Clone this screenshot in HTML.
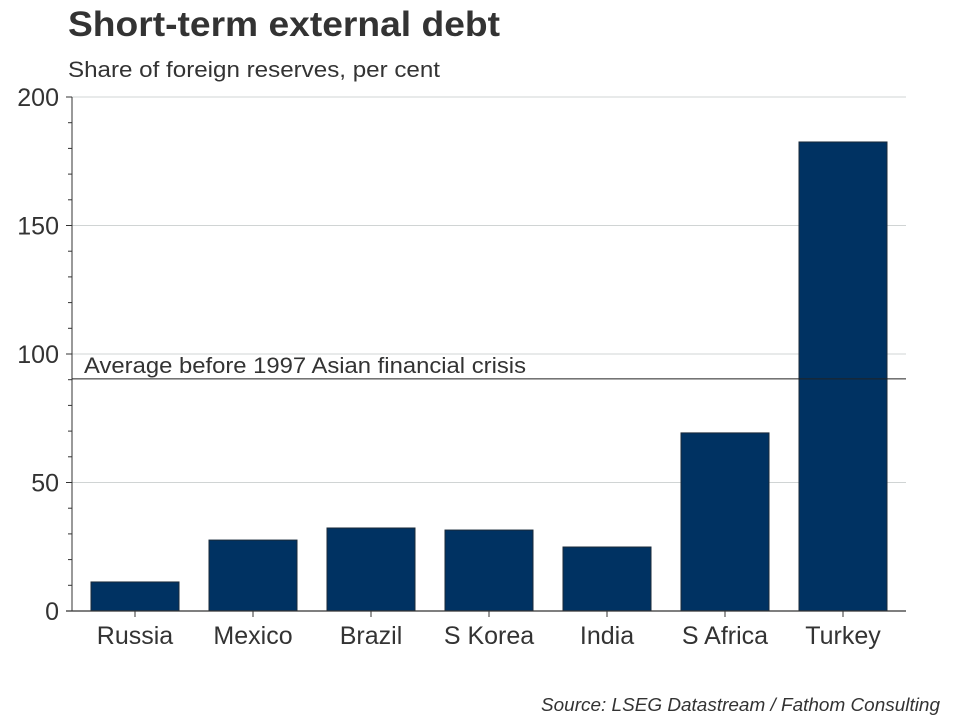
<!DOCTYPE html>
<html><head><meta charset="utf-8"><style>
body{margin:0;background:#fff;}
svg text{font-family:"Liberation Sans",Arial,sans-serif;}
</style></head><body>
<svg id="chart" width="960" height="720" xmlns="http://www.w3.org/2000/svg">
<text x="68" y="36" font-size="35" font-weight="bold" fill="#333" textLength="432" lengthAdjust="spacingAndGlyphs">Short-term external debt</text>
<text x="68" y="77" font-size="22" fill="#333" textLength="372" lengthAdjust="spacingAndGlyphs">Share of foreign reserves, per cent</text>
<g id="grid"></g>
<g id="bars"></g>
<g id="axes"></g>
<text x="541" y="711" font-size="18" font-style="italic" fill="#333" textLength="399" lengthAdjust="spacingAndGlyphs">Source: LSEG Datastream / Fathom Consulting</text>
</svg>
<script>
const categories=["Russia","Mexico","Brazil","S Korea","India","S Africa","Turkey"];
const values=[11.3,27.6,32.3,31.5,24.9,69.3,182.5];
const yTicks=[0,50,100,150,200];
const averageValue=90.3;
const averageLabel="Average before 1997 Asian financial crisis";
const NS="http://www.w3.org/2000/svg";
const X0=72,X1=906,Y0=611,Y1=97,bandStart=76,band=118,barW=88;
function y(v){return Y0-(v/200)*(Y0-Y1);}
function xc(i){return bandStart+band*i+band/2;}
function mk(parent,tag,attrs){const e=document.createElementNS(NS,tag);for(const k in attrs)e.setAttribute(k,attrs[k]);parent.appendChild(e);return e;}
const grid=document.getElementById('grid'),bars=document.getElementById('bars'),axes=document.getElementById('axes');
yTicks.forEach(t=>{
  if(t>0){const g=mk(grid,'line',{x1:X0,x2:X1,y1:y(t),y2:y(t),stroke:'#d0d4d4','stroke-width':1});
  
  }
  const tk=mk(axes,'line',{x1:66,x2:X0,y1:y(t),y2:y(t),stroke:'#333','stroke-width':1});
  
  
  const lb=mk(axes,'text',{x:59,y:y(t)+9,'font-size':25,fill:'#333','text-anchor':'end'});
  lb.textContent=t;
  
  
});
for(let v=10;v<200;v+=10){if(v%50===0)continue;
  const m=mk(axes,'line',{x1:68,x2:X0,y1:y(v),y2:y(v),stroke:'#333','stroke-width':1});
  
  }
categories.forEach((c,i)=>{
  const r=mk(bars,'rect',{x:xc(i)-barW/2,y:y(values[i]),width:barW,height:Y0-y(values[i]),fill:'#003262',stroke:'#1a2a3a','stroke-width':1});
  
  
  const tk=mk(axes,'line',{x1:xc(i),x2:xc(i),y1:Y0,y2:Y0+6,stroke:'#333'});
  
  
  const lb=mk(axes,'text',{x:xc(i),y:644,'font-size':25,fill:'#333','text-anchor':'middle'});
  lb.textContent=c;
  
  
});
const yax=mk(axes,'line',{x1:X0,x2:X0,y1:Y1,y2:Y0,stroke:'#333','stroke-width':1});


const xax=mk(axes,'line',{x1:66,x2:X1,y1:Y0,y2:Y0,stroke:'#333','stroke-width':1.3});


const avg=mk(axes,'line',{x1:X0,x2:X1,y1:y(averageValue),y2:y(averageValue),stroke:'#222','stroke-width':1});


const al=mk(axes,'text',{x:84,y:y(averageValue)-6,'font-size':22,fill:'#333',textLength:442,lengthAdjust:'spacingAndGlyphs'});
al.textContent=averageLabel;


</script>
</body></html>
